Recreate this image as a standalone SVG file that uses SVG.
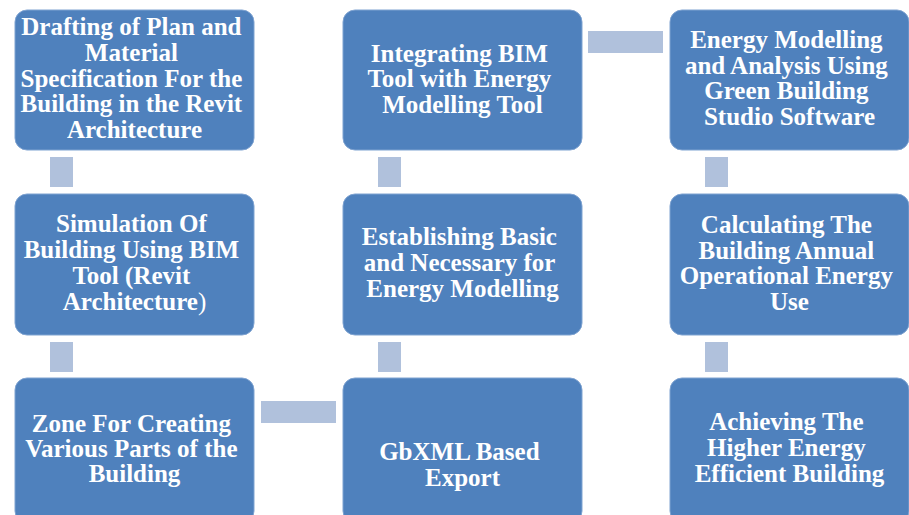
<svg xmlns="http://www.w3.org/2000/svg" width="909" height="515" viewBox="0 0 909 515">
  <style>
    .box { fill: #4F81BD; stroke: #7FA3D1; stroke-width: 1; }
    .link { fill: #B0C1DC; }
    .label { font-family: "Liberation Serif", "Times New Roman", serif; font-weight: bold; font-size: 25px; fill: #FFFFFF; text-anchor: middle; }
  </style>
  <rect width="909" height="515" fill="#FFFFFF"/>

  <!-- connector blocks between steps -->
  <g id="connectors">
    <rect class="link" x="50" y="157" width="23" height="30"/>
    <rect class="link" x="50" y="342" width="23" height="30"/>
    <rect class="link" x="261" y="401" width="75" height="22"/>
    <rect class="link" x="378" y="342" width="23" height="30"/>
    <rect class="link" x="378" y="157" width="23" height="30"/>
    <rect class="link" x="588" y="31" width="75" height="22"/>
    <rect class="link" x="705" y="157" width="23" height="30"/>
    <rect class="link" x="705" y="342" width="23" height="30"/>
  </g>

  <g id="step1">
    <rect class="box" x="15" y="10" width="239" height="140" rx="12"/>
    <text class="label">
      <tspan x="134.5" y="35">Drafting of Plan and</tspan>
      <tspan x="134.5" y="61">Material</tspan>
      <tspan x="134.5" y="87">Specification For the</tspan>
      <tspan x="134.5" y="112">Building in the Revit</tspan>
      <tspan x="134.5" y="138">Architecture</tspan>
    </text>
  </g>

  <g id="step2">
    <rect class="box" x="15" y="194" width="239" height="141" rx="12"/>
    <text class="label">
      <tspan x="134.5" y="232">Simulation Of</tspan>
      <tspan x="134.5" y="258">Building Using BIM</tspan>
      <tspan x="134.5" y="284">Tool (Revit</tspan>
      <tspan x="134.5" y="310">Architecture<tspan font-weight="normal">)</tspan></tspan>
    </text>
  </g>

  <g id="step3">
    <rect class="box" x="15" y="378" width="239" height="145" rx="12"/>
    <text class="label">
      <tspan x="134.5" y="432">Zone For Creating</tspan>
      <tspan x="134.5" y="457">Various Parts of the</tspan>
      <tspan x="134.5" y="482">Building</tspan>
    </text>
  </g>

  <g id="step4">
    <rect class="box" x="343" y="378" width="239" height="145" rx="12"/>
    <text class="label">
      <tspan x="462.5" y="460">GbXML Based</tspan>
      <tspan x="462.5" y="486">Export</tspan>
    </text>
  </g>

  <g id="step5">
    <rect class="box" x="343" y="194" width="239" height="141" rx="12"/>
    <text class="label">
      <tspan x="462.5" y="245">Establishing Basic</tspan>
      <tspan x="462.5" y="271">and Necessary for</tspan>
      <tspan x="462.5" y="297">Energy Modelling</tspan>
    </text>
  </g>

  <g id="step6">
    <rect class="box" x="343" y="10" width="239" height="140" rx="12"/>
    <text class="label">
      <tspan x="462.5" y="62">Integrating BIM</tspan>
      <tspan x="462.5" y="87">Tool with Energy</tspan>
      <tspan x="462.5" y="113">Modelling Tool</tspan>
    </text>
  </g>

  <g id="step7">
    <rect class="box" x="670" y="10" width="239" height="140" rx="12"/>
    <text class="label">
      <tspan x="789.5" y="48">Energy Modelling</tspan>
      <tspan x="789.5" y="74">and Analysis Using</tspan>
      <tspan x="789.5" y="99">Green Building</tspan>
      <tspan x="789.5" y="125">Studio Software</tspan>
    </text>
  </g>

  <g id="step8">
    <rect class="box" x="670" y="194" width="239" height="141" rx="12"/>
    <text class="label">
      <tspan x="789.5" y="233">Calculating The</tspan>
      <tspan x="789.5" y="259">Building Annual</tspan>
      <tspan x="789.5" y="284">Operational Energy</tspan>
      <tspan x="789.5" y="310">Use</tspan>
    </text>
  </g>

  <g id="step9">
    <rect class="box" x="670" y="378" width="239" height="145" rx="12"/>
    <text class="label">
      <tspan x="789.5" y="430">Achieving The</tspan>
      <tspan x="789.5" y="456">Higher Energy</tspan>
      <tspan x="789.5" y="482">Efficient Building</tspan>
    </text>
  </g>
</svg>
